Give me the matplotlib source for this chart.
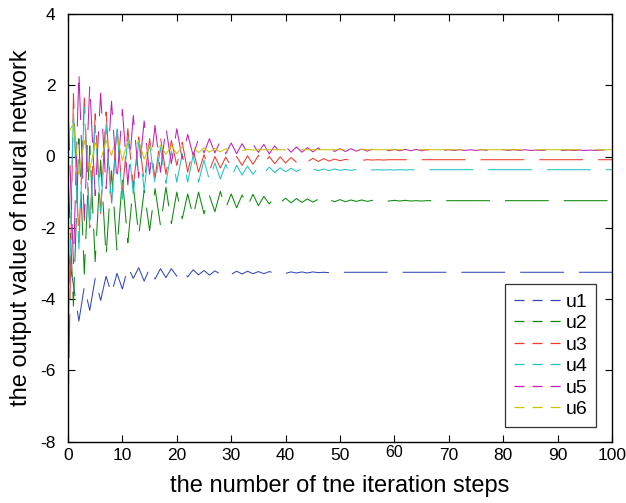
import matplotlib
matplotlib.use("Agg")
import matplotlib.pyplot as plt
from matplotlib.lines import Line2D
from matplotlib.transforms import ScaledTranslation

plt.rcParams['font.family'] = ['Liberation Sans', 'DejaVu Sans']
plt.rcParams['lines.scale_dashes'] = False

steps = list(range(101))

u1 = [-2.70, -3.60, -4.62, -3.65, -4.32, -3.42, -4.04, -3.36, -3.86, -3.28,
      -3.72, -3.10, -3.42, -3.12, -3.50, -3.13, -3.44, -3.15, -3.40, -3.15,
      -3.36, -3.18, -3.38, -3.18, -3.32, -3.20, -3.33, -3.21, -3.30, -3.22,
      -3.31, -3.22, -3.30, -3.22, -3.29, -3.23, -3.29, -3.23, -3.28, -3.23,
      -3.28, -3.24, -3.27, -3.24, -3.27, -3.24, -3.26, -3.25, -3.26, -3.25,
      -3.26, -3.25, -3.25, -3.25, -3.25, -3.25, -3.25, -3.25, -3.25, -3.25,
      -3.25, -3.25, -3.25, -3.25, -3.25, -3.25, -3.25, -3.25, -3.25, -3.25,
      -3.25, -3.25, -3.25, -3.25, -3.25, -3.25, -3.25, -3.25, -3.25, -3.25,
      -3.25, -3.25, -3.25, -3.25, -3.25, -3.25, -3.25, -3.25, -3.25, -3.25,
      -3.25, -3.25, -3.25, -3.25, -3.25, -3.25, -3.25, -3.25, -3.25, -3.25,
      -3.25]

u2 = [-0.50, -4.20, 0.50, -3.30, 0.30, -2.95, -0.10, -2.80, -0.40, -2.62,
      -0.60, -2.42, -0.80, -2.22, -0.95, -2.08, -0.90, -1.94, -0.86, -1.88,
      -1.00, -1.75, -1.05, -1.68, -1.00, -1.61, -1.10, -1.55, -0.98, -1.45,
      -1.05, -1.44, -1.08, -1.40, -1.06, -1.38, -1.12, -1.33, -1.16, -1.30,
      -1.17, -1.30, -1.18, -1.29, -1.19, -1.28, -1.20, -1.28, -1.21, -1.27,
      -1.21, -1.27, -1.22, -1.26, -1.22, -1.26, -1.23, -1.26, -1.23, -1.25,
      -1.23, -1.25, -1.23, -1.25, -1.24, -1.25, -1.24, -1.24, -1.24, -1.24,
      -1.24, -1.24, -1.24, -1.24, -1.24, -1.24, -1.24, -1.24, -1.24, -1.24,
      -1.24, -1.24, -1.24, -1.24, -1.24, -1.24, -1.24, -1.24, -1.24, -1.24,
      -1.24, -1.24, -1.24, -1.24, -1.24, -1.24, -1.24, -1.24, -1.24, -1.24,
      -1.24]

u3 = [-7.30, 1.76, -2.40, 1.65, -2.00, 1.20, -1.60, 1.25, -1.30, 0.87,
      -1.05, 0.78, -0.85, 0.55, -0.72, 0.50, -0.62, 0.54, -0.50, 0.45,
      -0.25, 0.40, -0.44, 0.20, -0.44, 0.05, -0.40, 0.00, -0.32, -0.02,
      -0.28, 0.00, -0.25, 0.02, -0.22, 0.03, -0.21, 0.00, -0.20, -0.01,
      -0.18, -0.03, -0.16, -0.04, -0.15, -0.05, -0.14, -0.06, -0.13, -0.07,
      -0.12, -0.08, -0.11, -0.08, -0.11, -0.09, -0.10, -0.09, -0.10, -0.09,
      -0.09, -0.09, -0.09, -0.09, -0.09, -0.09, -0.09, -0.09, -0.09, -0.09,
      -0.09, -0.09, -0.09, -0.09, -0.09, -0.09, -0.09, -0.09, -0.09, -0.09,
      -0.09, -0.09, -0.09, -0.09, -0.09, -0.09, -0.09, -0.09, -0.09, -0.09,
      -0.09, -0.09, -0.09, -0.09, -0.09, -0.09, -0.09, -0.09, -0.09, -0.09,
      -0.09]

u4 = [-5.20, 1.30, -2.60, 1.38, -2.08, 0.87, -1.55, 0.90, -1.38, 0.78,
      -1.20, 0.55, -1.05, 0.45, -0.95, 0.36, -0.80, 0.25, -0.75, 0.15,
      -0.72, 0.08, -0.72, 0.03, -0.72, -0.10, -0.67, -0.18, -0.63, -0.22,
      -0.58, -0.25, -0.52, -0.27, -0.50, -0.30, -0.47, -0.30, -0.45, -0.32,
      -0.43, -0.33, -0.42, -0.34, -0.41, -0.34, -0.40, -0.35, -0.40, -0.35,
      -0.39, -0.36, -0.39, -0.36, -0.38, -0.36, -0.38, -0.37, -0.38, -0.37,
      -0.38, -0.37, -0.38, -0.37, -0.38, -0.37, -0.37, -0.37, -0.37, -0.37,
      -0.37, -0.37, -0.37, -0.37, -0.37, -0.37, -0.37, -0.37, -0.37, -0.37,
      -0.37, -0.37, -0.37, -0.37, -0.37, -0.37, -0.37, -0.37, -0.37, -0.37,
      -0.37, -0.37, -0.37, -0.37, -0.37, -0.37, -0.37, -0.37, -0.37, -0.37,
      -0.37]

u5 = [1.40, -3.00, 2.37, -1.80, 2.00, -1.10, 1.78, -0.90, 1.55, -0.70,
      1.32, -0.80, 1.15, -0.60, 1.00, -0.50, 0.87, -0.44, 0.82, -0.20,
      0.78, -0.07, 0.62, 0.03, 0.50, 0.10, 0.50, 0.10, 0.43, 0.08,
      0.38, 0.08, 0.36, 0.10, 0.34, 0.12, 0.34, 0.07, 0.30, 0.10,
      0.28, 0.12, 0.27, 0.12, 0.25, 0.13, 0.24, 0.13, 0.23, 0.14,
      0.22, 0.14, 0.22, 0.15, 0.21, 0.15, 0.21, 0.15, 0.20, 0.16,
      0.20, 0.16, 0.20, 0.16, 0.20, 0.16, 0.19, 0.17, 0.19, 0.17,
      0.19, 0.17, 0.19, 0.17, 0.19, 0.17, 0.19, 0.17, 0.19, 0.17,
      0.19, 0.17, 0.19, 0.17, 0.19, 0.17, 0.18, 0.17, 0.18, 0.17,
      0.18, 0.17, 0.18, 0.17, 0.18, 0.17, 0.18, 0.17, 0.18, 0.17,
      0.18]

u6 = [0.65, 0.92, -0.49, 0.45, -0.39, 0.40, -0.11, 0.45, 0.03, 0.59,
      -0.11, 0.42, 0.17, 0.45, -0.07, 0.31, 0.02, 0.32, 0.06, 0.30,
      0.08, 0.27, 0.10, 0.26, 0.11, 0.24, 0.12, 0.23, 0.13, 0.22,
      0.14, 0.21, 0.16, 0.20, 0.18, 0.19, 0.19, 0.19, 0.19, 0.19,
      0.19, 0.19, 0.19, 0.19, 0.19, 0.19, 0.19, 0.19, 0.19, 0.19,
      0.19, 0.19, 0.19, 0.19, 0.19, 0.19, 0.19, 0.19, 0.19, 0.19,
      0.19, 0.19, 0.19, 0.19, 0.19, 0.19, 0.19, 0.19, 0.19, 0.19,
      0.19, 0.19, 0.19, 0.19, 0.19, 0.19, 0.19, 0.19, 0.19, 0.19,
      0.19, 0.19, 0.19, 0.19, 0.19, 0.19, 0.19, 0.19, 0.19, 0.19,
      0.19, 0.19, 0.19, 0.19, 0.19, 0.19, 0.19, 0.19, 0.19, 0.19,
      0.19]

series_names = ['u1', 'u2', 'u3', 'u4', 'u5', 'u6']
series_values = [u1, u2, u3, u4, u5, u6]
colors = ['#3347b8', '#0a8a0a', '#f03a2a', '#20c4c4', '#c020b8', '#c8c400']

x_ticks = [0, 10, 20, 30, 40, 50, 60, 70, 80, 90, 100]
y_ticks = [4, 2, 0, -2, -4, -6, -8]

fig = plt.figure(figsize=(6.26, 5.03), dpi=100)
ax = fig.add_axes([68 / 626, 1 - 441.5 / 503, 544 / 626, 427.5 / 503])

main_dash = (0, (31.5, 10.8))
for name, vals, col in zip(series_names, series_values, colors):
    ax.plot(steps, vals, color=col, lw=0.75, linestyle=main_dash)

ax.set_xlim(0, 100)
ax.set_ylim(-8, 4)
ax.set_xticks(x_ticks)
ax.set_yticks(y_ticks)
ax.set_xticklabels([str(t) for t in x_ticks])
ax.set_yticklabels([str(t) for t in y_ticks])
ax.tick_params(direction='in', length=5, width=0.8, top=True, right=True,
               labelsize=12.5)
ax.tick_params(axis='y', pad=9)
ax.tick_params(axis='x', pad=5)
for sp in ax.spines.values():
    sp.set_linewidth(1.0)

# the "60" label sits a little higher in the reference
for lbl in ax.get_xticklabels():
    if lbl.get_text() == '60':
        lbl.set_transform(lbl.get_transform() +
                          ScaledTranslation(0, 3.5 / 100, fig.dpi_scale_trans))
        lbl.set_fontsize(11.5)

ax.set_xlabel('the number of tne iteration steps', fontsize=17, labelpad=8)
ax.set_ylabel('the output value of neural network', fontsize=17, labelpad=6)

handles = [Line2D([0], [0], color=c, lw=0.9, linestyle=(0, (7.2, 5.8)))
           for c in colors]
leg = ax.legend(handles, series_names, loc='lower right',
                bbox_to_anchor=(596 / 626, 1 - 427 / 503),
                bbox_transform=fig.transFigure,
                fontsize=14, frameon=True, fancybox=False,
                edgecolor='black', handlelength=2.5, handletextpad=0.15,
                labelspacing=0.2, borderpad=0.45, borderaxespad=0)
leg.get_frame().set_linewidth(0.9)

fig.savefig('out.png', dpi=100)
